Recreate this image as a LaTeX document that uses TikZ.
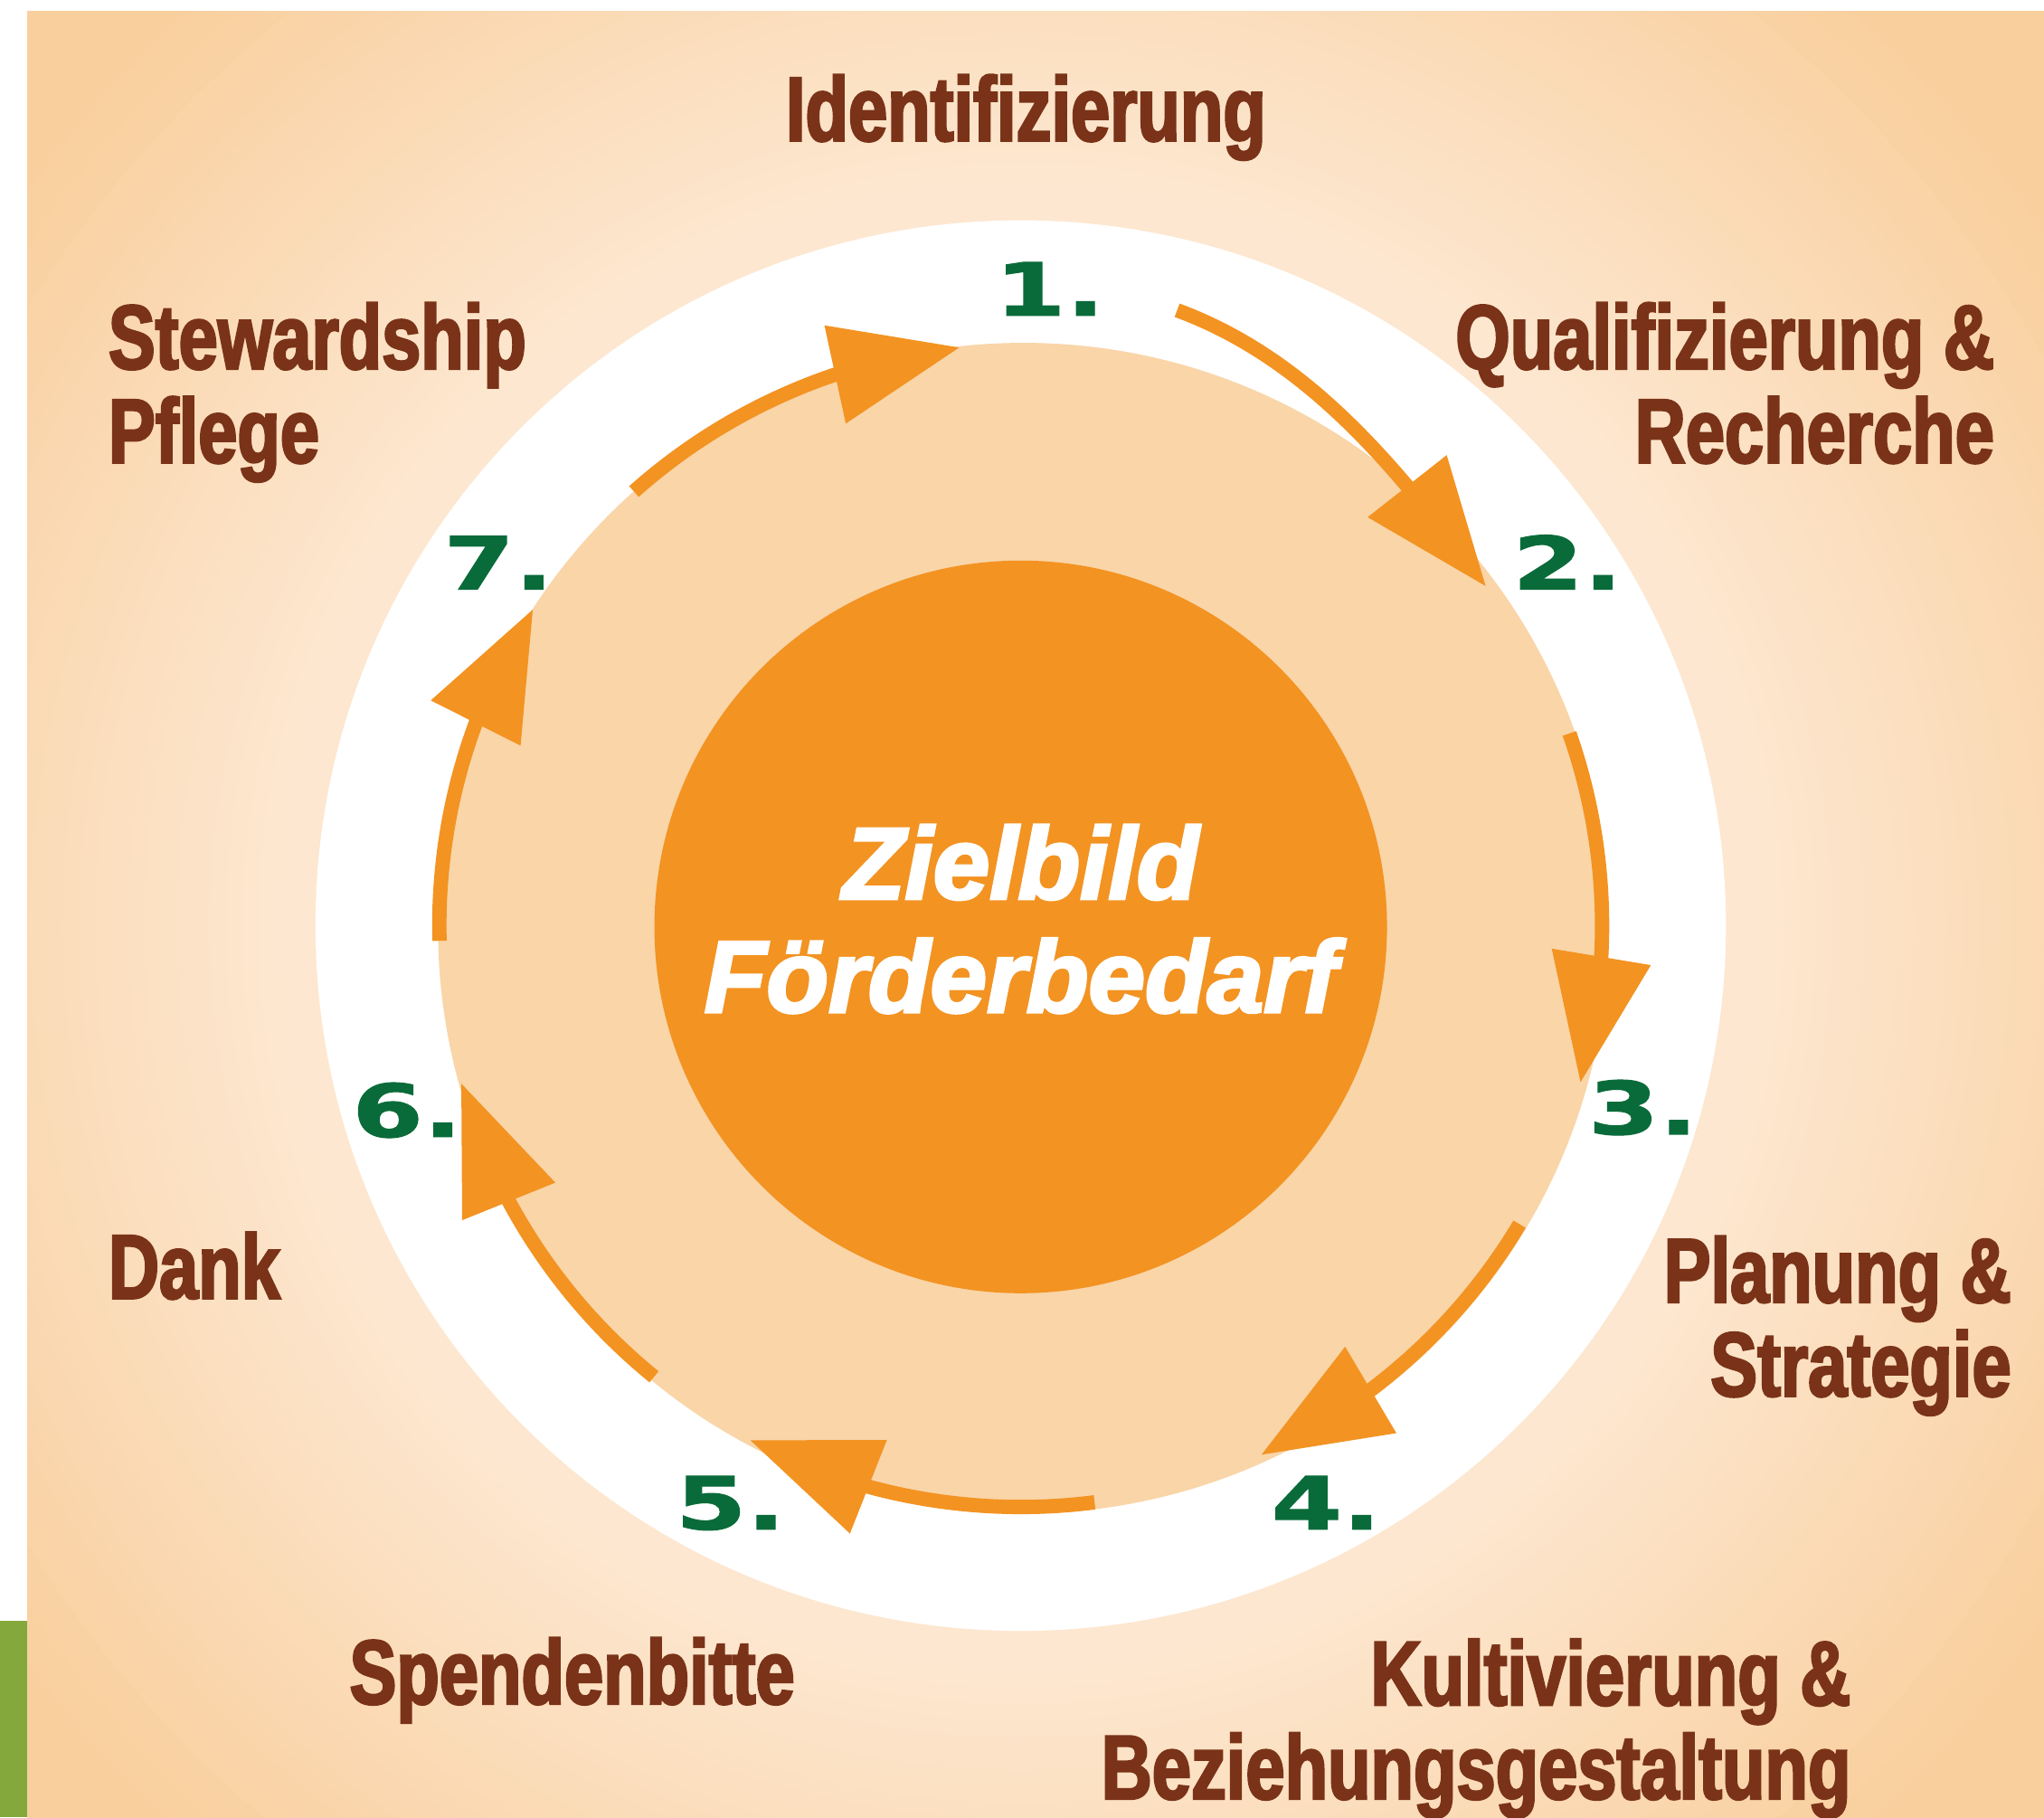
\documentclass[tikz,border=0pt]{standalone}
\usepackage{fontspec}
\usetikzlibrary{arrows.meta,bending,calc}
\setmainfont{Liberation Sans}
\newfontfamily\labelfont[FakeStretch=0.77,FakeBold=2.5]{Liberation Sans}
\newfontfamily\goalfont[FakeBold=3]{Liberation Sans}
\newfontfamily\numfont[FakeStretch=1.4,FakeBold=1.5]{DejaVu Sans}
\definecolor{bglight}{HTML}{FDE8D2}
\definecolor{bgdark}{HTML}{F9CF9E}
\definecolor{disc}{HTML}{F9D5A8}
\definecolor{orng}{HTML}{F39322}
\definecolor{brwn}{HTML}{7A3318}
\definecolor{grn}{HTML}{0A6B3A}
\definecolor{lgreen}{HTML}{84A83C}
\begin{document}
\begin{tikzpicture}[x=1pt,y=-1pt,
  lbl/.style={text=brwn, font=\labelfont\bfseries\fontsize{70}{72}\selectfont, inner sep=0pt},
  num/.style={text=grn, font=\numfont\bfseries\fontsize{56}{60}\selectfont, inner sep=0pt, anchor=base west},
  cyc/.style={draw=orng, line width=11pt, line cap=butt, -{Triangle[length=98pt,width=74pt,flex]}},
  goal/.style={text=white, font=\goalfont\bfseries\itshape\fontsize{78}{87}\selectfont, align=center, inner sep=0pt}
]
\useasboundingbox (0,0) rectangle (1568,1394);
\coordinate (ctr) at (783,710);
% background
\fill[white] (0,0) rectangle (1568,1394);
\begin{scope}
  \clip (21,9) rectangle (1568,1394);
  \fill[bgdark] (21,9) rectangle (1568,1394);
  \foreach \k in {0,...,39}{
    \pgfmathsetmacro\rr{1060-\k*12.5}
    \pgfmathsetmacro\pp{max(0,min(100,(\rr-560)/4))}
    \fill[bgdark!\pp!bglight] (ctr) circle[radius=\rr pt];
  }
\end{scope}
\fill[lgreen] (0,1243) rectangle (21,1394);
% rings
\fill[white] (ctr) circle[radius=541pt];
\fill[disc] (785,712) circle[radius=449pt];
\node[circle, fill=orng, minimum size=562pt, inner sep=0pt] (core) at (783,711) {};
\node[goal] (goaltext) at (783,705) {Zielbild\\Förderbedarf};
% numbers
\node[num] (n1) at (763,242) {1.};
\node[num] (n2) at (1160,452) {2.};
\node[num] (n3) at (1218,870) {3.};
\node[num] (n4) at (975,1173) {4.};
\node[num] (n5) at (518,1173) {5.};
\node[num] (n6) at (270,872) {6.};
\node[num] (n7) at (340,452) {7.};
% arrows
\coordinate (s1) at (903,238);  \coordinate (t1) at (1140,450);
\coordinate (s2) at ($(ctr)+(-19.3:446)$);
\coordinate (s3) at ($(ctr)+(30.9:446)$);
\coordinate (s4) at ($(ctr)+(82.7:446)$);
\coordinate (s5) at ($(ctr)+(129.1:446)$);
\coordinate (s6) at ($(ctr)+(178.5:446)$);
\coordinate (s7) at ($(ctr)+(228.3:446)$);
\draw[cyc] (s1) .. controls (1006,276) and (1074,362) .. (t1);
\draw[cyc] (s2) arc[start angle=-19.3, end angle=15.7, radius=446];
\draw[cyc] (s3) arc[start angle=30.9, end angle=65.6, radius=446];
\draw[cyc] (s4) arc[start angle=82.7, end angle=117.8, radius=446];
\draw[cyc] (s5) arc[start angle=129.1, end angle=164.3, radius=446];
\draw[cyc] (s6) arc[start angle=178.5, end angle=213, radius=446];
\draw[cyc] (s7) arc[start angle=228.3, end angle=264, radius=446];
% labels
\node[lbl, anchor=base] (lident) at (787,108) {Identifizierung};
\node[lbl, anchor=north west, align=left] (lstew) at (83,232) {Stewardship\\Pflege};
\node[lbl, anchor=north east, align=right] (lqual) at (1530,232) {Qualifizierung \&\\Recherche};
\node[lbl, anchor=north east, align=right] (lplan) at (1543,948) {Planung \&\\Strategie};
\node[lbl, anchor=north east, align=right] (lkult) at (1420,1257) {Kultivierung \&\\Beziehungsgestaltung};
\node[lbl, anchor=base west] (lspend) at (268,1307) {Spendenbitte};
\node[lbl, anchor=base west] (ldank) at (83,996) {Dank};
\end{tikzpicture}
\end{document}
